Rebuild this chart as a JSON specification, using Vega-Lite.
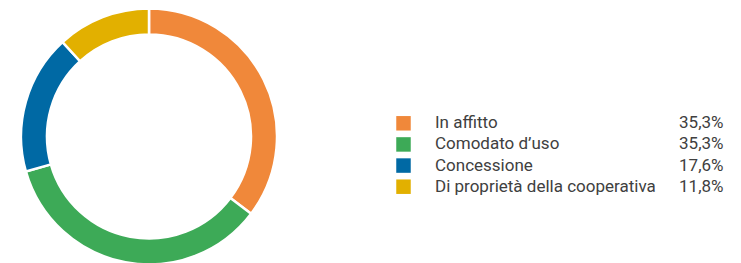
{
  "$schema": "https://vega.github.io/schema/vega-lite/v6.json",
  "padding": 0,
  "spacing": 0,
  "background": "white",
  "config": {"view": {"stroke": null}, "font": "Roboto"},
  "data": {"values": [
    {"label": "In affitto", "value": 35.3, "pct": "35,3%"},
    {"label": "Comodato d’uso", "value": 35.3, "pct": "35,3%"},
    {"label": "Concessione", "value": 17.6, "pct": "17,6%"},
    {"label": "Di proprietà della cooperativa", "value": 11.8, "pct": "11,8%"}
  ]},
  "hconcat": [
    {
      "width": 298,
      "height": 273,
      "mark": {"type": "arc", "outerRadius": 128, "innerRadius": 102, "stroke": "white", "strokeWidth": 2.5},
      "encoding": {
        "theta": {"field": "value", "type": "quantitative", "stack": true},
        "color": {
          "field": "label", "type": "nominal",
          "sort": ["In affitto", "Comodato d’uso", "Concessione", "Di proprietà della cooperativa"],
          "scale": {"domain": ["In affitto", "Comodato d’uso", "Concessione", "Di proprietà della cooperativa"], "range": ["#F0883A", "#3DAA57", "#0069A4", "#E2B000"]},
          "legend": null
        },
        "order": {"field": "value", "sort": "descending"}
      }
    },
    {
      "width": 443,
      "height": 263,
      "encoding": {
        "y": {"field": "label", "type": "nominal", "axis": null,
          "sort": ["In affitto", "Comodato d’uso", "Concessione", "Di proprietà della cooperativa"],
          "scale": {"type": "point", "padding": 0, "range": [123.3, 186.7]}}
      },
      "layer": [
        {
          "mark": {"type": "square", "x": 105.5, "size": 210, "opacity": 1},
          "encoding": {
            "color": {"field": "label", "type": "nominal", "legend": null,
              "scale": {"domain": ["In affitto", "Comodato d’uso", "Concessione", "Di proprietà della cooperativa"], "range": ["#F0883A", "#3DAA57", "#0069A4", "#E2B000"]}}
          }
        },
        {
          "mark": {"type": "text", "x": 137, "align": "left", "baseline": "middle", "fontSize": 17, "color": "#404040", "font": "Roboto"},
          "encoding": {"text": {"field": "label"}}
        },
        {
          "mark": {"type": "text", "x": 425.5, "align": "right", "baseline": "middle", "fontSize": 17, "color": "#404040", "font": "Roboto"},
          "encoding": {"text": {"field": "pct"}}
        }
      ]
    }
  ]
}
